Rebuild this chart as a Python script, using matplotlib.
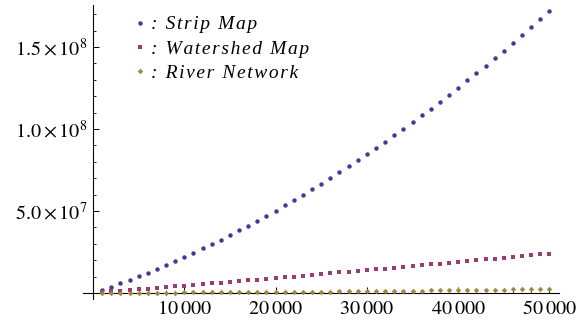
import matplotlib
matplotlib.use("Agg")
import matplotlib.pyplot as plt
from matplotlib.ticker import FixedLocator, MultipleLocator

plt.rcParams['mathtext.fontset'] = 'stix'
plt.rcParams['font.family'] = ['Liberation Serif', 'DejaVu Serif']

# sample sizes (1000 .. 50000)
sizes = [1000 * k for k in range(1, 51)]

# values in millions
strip_map = [1.92, 3.90, 5.95, 8.06, 10.23, 12.46, 14.75, 17.10, 19.52, 22.0,
             24.54, 27.14, 29.81, 32.54, 35.33, 38.18, 41.09, 44.06, 47.10, 50.2,
             53.36, 56.58, 59.87, 63.22, 66.63, 70.10, 73.63, 77.22, 80.88, 84.6,
             88.38, 92.22, 96.13, 100.10, 104.13, 108.22, 112.37, 116.58, 120.86, 125.2,
             129.60, 134.06, 138.59, 143.18, 147.83, 152.54, 157.31, 162.14, 167.04, 172.0]
watershed_map = [0.5, 0.9, 1.3, 1.8, 2.2, 2.7, 3.0, 3.6, 4.0, 4.5,
                 4.9, 5.4, 5.9, 6.3, 6.8, 7.2, 7.7, 8.1, 8.7, 9.1,
                 9.6, 10.0, 10.5, 11.0, 11.5, 11.9, 12.5, 12.9, 13.4, 13.9,
                 14.4, 14.9, 15.4, 15.9, 16.4, 16.9, 17.4, 17.9, 18.4, 18.9,
                 19.4, 19.9, 20.4, 20.9, 21.4, 21.9, 22.5, 23.0, 23.5, 24.0]
river_network = [0.05, 0.08, 0.1, 0.12, 0.15, 0.18, 0.2, 0.22, 0.25, 0.28,
                 0.3, 0.33, 0.35, 0.38, 0.4, 0.43, 0.45, 0.48, 0.5, 0.55,
                 0.6, 0.65, 0.7, 0.75, 0.8, 0.85, 0.9, 0.95, 1.0, 1.1,
                 1.15, 1.2, 1.25, 1.3, 1.35, 1.4, 1.5, 1.55, 1.6, 1.7,
                 1.75, 1.8, 1.9, 2.0, 2.05, 2.1, 2.2, 2.4, 2.5, 2.6]

labels = [': Strip Map', ': Watershed Map', ': River Network']
colors = ['#3d3d99', '#993d71', '#998b3d']
markers = ['o', 's', 'D']

y_ticks = [5e7, 1e8, 1.5e8]
y_tick_labels = [r'$5.0\times10^{7}$', r'$1.0\times10^{8}$', r'$1.5\times10^{8}$']
x_ticks = [10000, 20000, 30000, 40000, 50000]
x_tick_labels = [r'$10\:000$', r'$20\:000$', r'$30\:000$', r'$40\:000$', r'$50\:000$']


def spaced(s):
    # Mathematica-ish wide letter spacing
    return '\u200a'.join(s)


fig = plt.figure(figsize=(5.79, 3.2), dpi=100)
ax = fig.add_axes([83 / 579, 21 / 320, 476 / 579, 294 / 320])

series = [strip_map, watershed_map, river_network]
for vals, lab, col, mk in zip(series, labels, colors, markers):
    ax.plot(sizes, [v * 1e6 for v in vals], linestyle='none', marker=mk,
            markersize=3.2 if mk != 'D' else 2.8, color=col, markeredgewidth=0,
            label=spaced(lab), clip_on=False, zorder=3)

ax.set_xlim(-1100, 51050)
ax.set_ylim(-3.7e6, 1.756e8)

for side in ['top', 'right']:
    ax.spines[side].set_visible(False)
ax.spines['left'].set_position(('data', 0))
ax.spines['bottom'].set_position(('data', 0))
for side in ['left', 'bottom']:
    ax.spines[side].set_linewidth(0.8)

ax.yaxis.set_major_locator(FixedLocator(y_ticks))
ax.yaxis.set_minor_locator(MultipleLocator(1e7))
ax.set_yticklabels(y_tick_labels)
ax.xaxis.set_major_locator(FixedLocator(x_ticks))
ax.xaxis.set_minor_locator(MultipleLocator(2000))
ax.set_xticklabels(x_tick_labels)

ax.tick_params(axis='both', which='major', direction='in', length=4, width=0.7,
               labelsize=14.5)
ax.tick_params(axis='both', which='minor', direction='in', length=2.5, width=0.6)
ax.tick_params(axis='y', which='major', pad=4)
ax.tick_params(axis='x', which='major', pad=5)

leg = ax.legend(loc='upper left', bbox_to_anchor=(125 / 579, 1 - 6 / 320),
                bbox_transform=fig.transFigure, frameon=False, handlelength=0.5,
                handletextpad=0.35, labelspacing=0.35, borderpad=0, markerscale=1.0,
                prop={'family': 'Liberation Serif', 'style': 'italic', 'size': 14})

fig.savefig('out.png', dpi=100)
